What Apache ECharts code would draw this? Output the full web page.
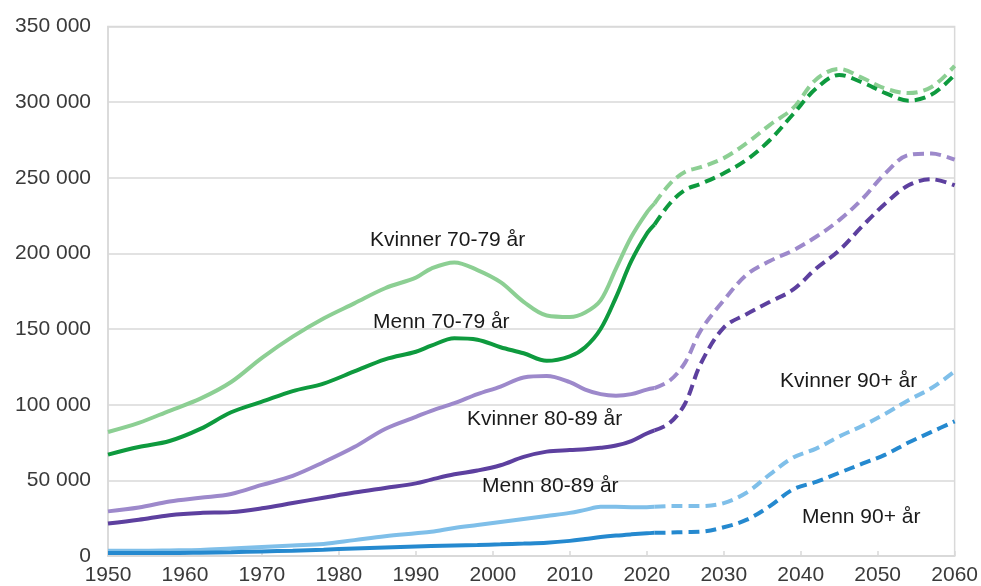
<!DOCTYPE html>
<html>
<head>
<meta charset="utf-8">
<script src="https://cdn.jsdelivr.net/npm/echarts@6/dist/echarts.min.js"></script>
<style>
  html, body { margin: 0; padding: 0; background: #fff; }
  #chart { width: 981px; height: 586px; }
</style>
</head>
<body>
<div id="chart"></div>
<script>
// ---- Data ----
const histYears = [1950,1954,1958,1962,1966,1970,1974,1978,1982,1986,1990,1992,1995,1998,2001,2004,2007,2010,2012,2014,2016,2018,2020,2021];
const projYears = [2021,2023,2025,2027,2030,2033,2036,2039,2042,2045,2048,2051,2054,2057,2060];

const kv7079Hist = [82000,88000,96000,104000,115000,131000,145000,157000,167000,177000,184000,190000,194000,189000,181000,168000,159000,158000,161000,169000,190000,211000,227000,233000];
const kv7079Proj = [233000,246000,254000,257000,263000,273000,285000,296000,315000,322000,316000,309000,306000,310000,324000];

const me7079Hist = [67000,72000,76000,84000,95000,102000,109000,114000,122000,130000,135000,139000,144000,143000,138000,134000,129000,132000,138000,150000,171000,195000,213000,219000];
const me7079Proj = [219000,233000,242000,246000,253000,262000,275000,292000,309000,318000,313000,306000,301000,305000,318000];

const kv8089Hist = [29500,32000,36000,38500,41000,47000,53000,62000,72000,84000,92000,96000,101000,107000,112000,118000,119000,115000,110000,107000,106000,107000,110000,111000];
const kv8089Proj = [111000,116000,128000,149000,169000,186000,195000,202000,211000,222000,236000,253000,265000,266000,262000];

const me8089Hist = [21500,24000,27000,28500,29000,31500,35000,38500,42000,45000,48000,50500,54000,56500,60000,65500,69000,70000,70500,71500,73000,76000,81000,83000];
const me8089Proj = [83000,88000,101000,127000,151000,160000,168000,176000,190000,202000,218000,233000,245000,249000,245000];

const kv90Hist = [3500,3500,3700,4000,5000,6000,7000,8000,10500,13000,15000,16000,18500,20500,22500,24500,26500,28500,30500,32500,32500,32300,32300,32500];
const kv90Proj = [32500,33000,33000,33000,35000,42000,54000,65000,71000,79000,86000,94000,103000,111000,122000];

const me90Hist = [2000,2000,2000,2200,2500,3000,3500,4200,5000,5700,6300,6600,7000,7300,7700,8200,8800,10000,11200,12500,13500,14300,15000,15300];
const me90Proj = [15300,15500,15800,16000,19000,24000,33000,44000,49000,55000,61000,67000,75000,82000,89000];

const labels = ['Kvinner 70-79 år','Menn 70-79 år','Kvinner 80-89 år','Menn 80-89 år','Kvinner 90+ år','Menn 90+ år'];

// ---- Styling ----
const colors = ['#8ccf93','#0e9a3e','#9d89cb','#5d409f','#7fbfe9','#2589cf'];
const FONT = 'Liberation Sans, Arial, sans-serif';

function zip(xs, ys) { return xs.map((x, i) => [x, ys[i]]); }

const groups = [
  [kv7079Hist, kv7079Proj],
  [me7079Hist, me7079Proj],
  [kv8089Hist, kv8089Proj],
  [me8089Hist, me8089Proj],
  [kv90Hist, kv90Proj],
  [me90Hist, me90Proj]
];

const series = [];
groups.forEach((g, i) => {
  series.push({
    name: labels[i], type: 'line', data: zip(histYears, g[0]),
    smooth: 0.35, showSymbol: false, symbol: 'none',
    lineStyle: { color: colors[i], width: 4 }, z: 3
  });
  series.push({
    name: labels[i] + ' (proj)', type: 'line', data: zip(projYears, g[1]),
    smooth: 0.35, showSymbol: false, symbol: 'none',
    lineStyle: { color: colors[i], width: 4, type: [11, 6] }, z: 3
  });
});

const labelPos = [
  [370, 240], [373, 322], [467, 419], [482, 486], [780, 381], [802, 517]
];

const chart = echarts.init(document.getElementById('chart'), null, { renderer: 'canvas' });
chart.setOption({
  animation: false,
  backgroundColor: '#ffffff',
  grid: {
    left: 108, right: 26, top: 26.5, bottom: 28.5,
    show: true, borderColor: '#d9d9d9', borderWidth: 1.5
  },
  xAxis: {
    type: 'value', min: 1950, max: 2060, interval: 10,
    axisLine: { show: true, lineStyle: { color: '#d9d9d9', width: 1.5 } },
    axisTick: { show: true, inside: true, length: 5, lineStyle: { color: '#d9d9d9', width: 1.5 } },
    splitLine: { show: false },
    axisLabel: {
      color: '#3a3a3a', fontSize: 21, fontFamily: FONT, margin: 9,
      formatter: v => String(v)
    }
  },
  yAxis: {
    type: 'value', min: 0, max: 350000, interval: 50000,
    axisLine: { show: true, lineStyle: { color: '#d9d9d9', width: 1.5 } },
    axisTick: { show: false },
    splitLine: { show: true, lineStyle: { color: '#d9d9d9', width: 1.5 } },
    axisLabel: {
      color: '#3a3a3a', fontSize: 21, fontFamily: FONT, margin: 17,
      formatter: v => String(v).replace(/\B(?=(\d{3})+(?!\d))/g, ' ')
    }
  },
  series: series,
  graphic: labels.map((t, i) => ({
    type: 'text', x: labelPos[i][0], y: labelPos[i][1], z: 10,
    style: { text: t, fill: '#1a1a1a', fontSize: 21, fontFamily: FONT, align: 'left', verticalAlign: 'middle' }
  }))
});
</script>
</body>
</html>
